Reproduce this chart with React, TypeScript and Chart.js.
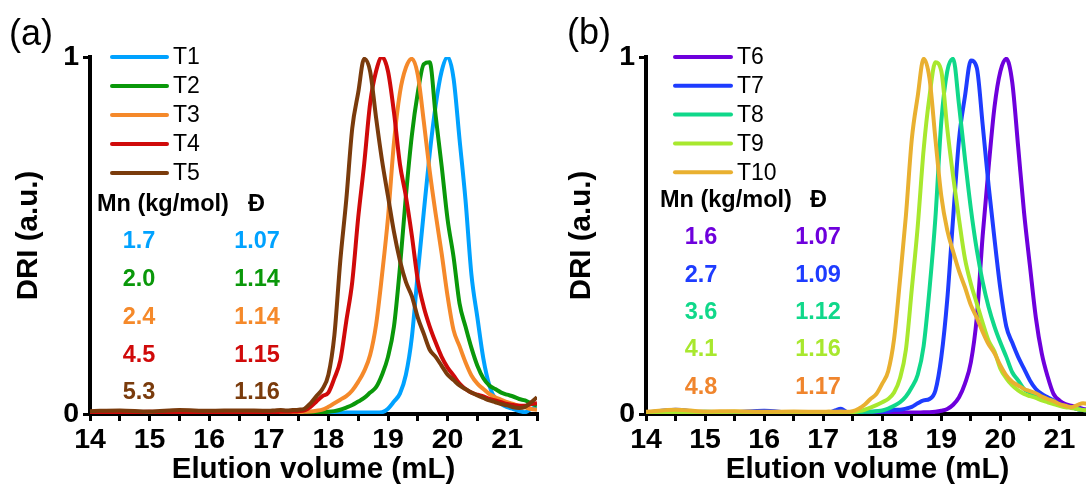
import React, { useEffect, useRef } from "react";
import { Chart, registerables } from "chart.js";

Chart.register(...registerables);

const FONT = "'Liberation Sans', Arial, Helvetica, sans-serif";

// Elution volume grid (mL)
const X = [
  14, 14.5, 15, 15.5, 16, 16.5,
  17, 17.1, 17.2, 17.3, 17.4, 17.5, 17.6, 17.7, 17.8, 17.9,
  18, 18.1, 18.2, 18.3, 18.4, 18.5, 18.6, 18.7, 18.8, 18.9,
  19, 19.1, 19.2, 19.3, 19.4, 19.5, 19.6, 19.7, 19.8, 19.9,
  20, 20.1, 20.2, 20.3, 20.4, 20.5, 20.6, 20.7, 20.8, 20.9,
  21, 21.1, 21.2, 21.3, 21.4, 21.5,
];

// Panel (a)
const T1 = [
  0.003, 0.004, 0.003, 0.006, 0.003, 0.004,
  0.004, 0.003, 0.004, 0.003, 0.004, 0.003, 0.004, 0.003, 0.003, 0.004,
  0.003, 0.003, 0.003, 0.004, 0.004, 0.004, 0.004, 0.004, 0.004, 0.005,
  0.015, 0.035, 0.057, 0.11, 0.215, 0.395, 0.565, 0.73, 0.865, 0.96,
  1.0, 0.94, 0.77, 0.6, 0.39, 0.27, 0.155, 0.08, 0.042, 0.028,
  0.019, 0.014, 0.008, 0.005, 0.014, 0.019,
];
const T2 = [
  0.004, 0.005, 0.003, 0.005, 0.004, 0.003,
  0.004, 0.004, 0.005, 0.004, 0.004, 0.005, 0.005, 0.005, 0.005, 0.005,
  0.006, 0.008, 0.012, 0.018, 0.025, 0.035, 0.045, 0.06, 0.075, 0.11,
  0.16, 0.245, 0.41, 0.61, 0.78, 0.9, 0.98, 0.985, 0.835, 0.695,
  0.545, 0.44, 0.31, 0.245, 0.185, 0.135, 0.1, 0.08, 0.07, 0.06,
  0.054, 0.049, 0.042, 0.038, 0.03, 0.024,
];
const T3 = [
  0.004, 0.003, 0.005, 0.004, 0.003, 0.004,
  0.004, 0.004, 0.004, 0.005, 0.005, 0.005, 0.006, 0.007, 0.009, 0.012,
  0.02, 0.03, 0.04, 0.05, 0.066, 0.09, 0.12, 0.165, 0.25, 0.39,
  0.55, 0.76, 0.9, 0.97, 0.995, 0.95, 0.82, 0.68, 0.56, 0.45,
  0.33, 0.235, 0.19, 0.145, 0.108, 0.085, 0.07, 0.056, 0.047, 0.04,
  0.033, 0.028, 0.023, 0.019, 0.014, 0.012,
];
const T4 = [
  0.005, 0.004, 0.006, 0.004, 0.005, 0.004,
  0.005, 0.005, 0.006, 0.006, 0.007, 0.008, 0.01, 0.02, 0.035, 0.05,
  0.06, 0.1, 0.15, 0.26, 0.37, 0.55, 0.7, 0.87, 0.96, 1.0,
  0.96, 0.845, 0.7, 0.61, 0.5, 0.375, 0.3, 0.245, 0.2, 0.16,
  0.13, 0.108, 0.085, 0.07, 0.06, 0.054, 0.049, 0.042, 0.038, 0.033,
  0.028, 0.025, 0.023, 0.023, 0.028, 0.03,
];
const T5 = [
  0.008, 0.01, 0.007, 0.011, 0.009, 0.01,
  0.009, 0.01, 0.011, 0.01, 0.011, 0.012, 0.015, 0.03, 0.05, 0.07,
  0.11, 0.22, 0.43, 0.6, 0.8, 0.9, 0.995, 0.96, 0.83, 0.71,
  0.61, 0.51, 0.43, 0.37, 0.33, 0.27, 0.225, 0.18, 0.16, 0.135,
  0.11, 0.095, 0.08, 0.07, 0.06, 0.052, 0.045, 0.038, 0.033, 0.028,
  0.024, 0.019, 0.017, 0.02, 0.033, 0.047,
];

// Panel (b)
const T6 = [
  0.003, 0.004, 0.003, 0.004, 0.003, 0.004,
  0.003, 0.004, 0.003, 0.003, 0.004, 0.003, 0.003, 0.004, 0.003, 0.003,
  0.003, 0.003, 0.004, 0.004, 0.004, 0.004, 0.004, 0.005, 0.005, 0.006,
  0.009, 0.014, 0.026, 0.047, 0.085, 0.145, 0.27, 0.5, 0.69, 0.86,
  0.96, 0.995, 0.93, 0.75, 0.565, 0.415, 0.27, 0.17, 0.105, 0.056,
  0.038, 0.028, 0.023, 0.019, 0.014, 0.012,
];
const T7 = [
  0.004, 0.012, 0.004, 0.005, 0.009, 0.004,
  0.005, 0.004, 0.01, 0.015, 0.006, 0.005, 0.005, 0.006, 0.006, 0.007,
  0.007, 0.008, 0.012, 0.012, 0.015, 0.02, 0.03, 0.038, 0.042, 0.066,
  0.16, 0.32, 0.55, 0.77, 0.89, 0.99, 0.97, 0.81, 0.64, 0.49,
  0.35, 0.245, 0.2, 0.16, 0.127, 0.094, 0.07, 0.056, 0.047, 0.038,
  0.028, 0.022, 0.019, 0.014, 0.011, 0.01,
];
const T8 = [
  0.005, 0.004, 0.006, 0.004, 0.005, 0.004,
  0.005, 0.005, 0.004, 0.005, 0.005, 0.005, 0.005, 0.006, 0.006, 0.008,
  0.01, 0.015, 0.023, 0.033, 0.049, 0.075, 0.11, 0.19, 0.35, 0.55,
  0.82, 0.96, 0.995, 0.865, 0.715, 0.575, 0.46, 0.37, 0.3, 0.245,
  0.2, 0.16, 0.117, 0.094, 0.07, 0.06, 0.052, 0.045, 0.038, 0.032,
  0.026, 0.022, 0.019, 0.014, 0.011, 0.01,
];
const T9 = [
  0.004, 0.005, 0.004, 0.006, 0.004, 0.005,
  0.004, 0.005, 0.005, 0.004, 0.005, 0.005, 0.008, 0.012, 0.018, 0.025,
  0.033, 0.042, 0.06, 0.1, 0.18, 0.35, 0.525, 0.74, 0.89, 0.985,
  0.96, 0.8, 0.665, 0.545, 0.435, 0.365, 0.31, 0.255, 0.205, 0.175,
  0.127, 0.1, 0.08, 0.066, 0.056, 0.05, 0.045, 0.038, 0.033, 0.028,
  0.023, 0.019, 0.017, 0.014, 0.011, 0.01,
];
const T10 = [
  0.006, 0.012, 0.007, 0.008, 0.006, 0.007,
  0.006, 0.007, 0.006, 0.007, 0.006, 0.008, 0.015, 0.026, 0.042, 0.056,
  0.085, 0.12, 0.21, 0.375, 0.555, 0.77, 0.89, 0.995, 0.94, 0.77,
  0.61, 0.515, 0.455, 0.4, 0.355, 0.305, 0.27, 0.23, 0.195, 0.17,
  0.136, 0.108, 0.09, 0.08, 0.07, 0.064, 0.058, 0.049, 0.042, 0.036,
  0.028, 0.023, 0.019, 0.025, 0.03, 0.028,
];

const LABELS_A = ["T1", "T2", "T3", "T4", "T5"];
const SERIES_A = [T1, T2, T3, T4, T5];
const LINE_COLORS_A = ["#00A2FF", "#0A980A", "#F5892A", "#D00A0A", "#7A3B0C"];
const TEXT_COLORS_A = ["#00A2FF", "#0A980A", "#F5892A", "#D00A0A", "#7A3B0C"];
const MN_A = ["1.7", "2.0", "2.4", "4.5", "5.3"];
const PDI_A = ["1.07", "1.14", "1.14", "1.15", "1.16"];

const LABELS_B = ["T6", "T7", "T8", "T9", "T10"];
const SERIES_B = [T6, T7, T8, T9, T10];
const LINE_COLORS_B = ["#6E00DC", "#1E3CFF", "#10D88A", "#A8E82E", "#E9B030"];
const TEXT_COLORS_B = ["#6E00DC", "#1E3CFF", "#10D88A", "#A8E82E", "#F0852D"];
const MN_B = ["1.6", "2.7", "3.6", "4.1", "4.8"];
const PDI_B = ["1.07", "1.09", "1.12", "1.16", "1.17"];

const X_TICK_STEP = 0.5;
const Y_TICKS = [0, 1];

const annotPlugin = {
  id: "annot",
  afterDraw(chart: any, _args: any, o: any) {
    const { ctx, chartArea: a } = chart;
    ctx.save();
    ctx.textBaseline = "middle";
    ctx.textAlign = "left";
    ctx.fillStyle = "#000";
    ctx.font = `36px ${FONT}`;
    ctx.fillText(o.letter, o.letterX, o.letterY);

    o.labels.forEach((lab: string, i: number) => {
      const y = a.top + i * o.legGap;
      ctx.strokeStyle = o.lineColors[i];
      ctx.lineWidth = 4;
      ctx.lineCap = "round";
      ctx.beginPath();
      ctx.moveTo(a.left + o.legX0, y);
      ctx.lineTo(a.left + o.legX1, y);
      ctx.stroke();
      ctx.fillStyle = "#000";
      ctx.font = `23px ${FONT}`;
      ctx.fillText(lab, a.left + o.legX1 + 6, y + 1);
    });

    ctx.fillStyle = "#000";
    ctx.font = `bold 23.5px ${FONT}`;
    ctx.textAlign = "left";
    ctx.fillText("Mn (kg/mol)", a.left + o.mnX, o.headY);
    ctx.fillText("Đ", a.left + o.dX, o.headY);

    ctx.textAlign = "center";
    ctx.font = `bold 23.5px ${FONT}`;
    o.mn.forEach((m: string, i: number) => {
      const y = o.rowY0 + i * o.rowGap;
      ctx.fillStyle = o.textColors[i];
      ctx.fillText(m, a.left + o.col1, y);
      ctx.fillText(o.pdi[i], a.left + o.col2, y);
    });
    ctx.restore();
  },
};

function makeConfig(series: number[][], colors: string[], labels: string[], annot: any, yTitlePad: number) {
  const n = series.length;
  return {
    type: "line" as const,
    data: {
      datasets: series.map((s, i) => ({
        label: labels[i],
        data: X.map((x, j) => ({ x, y: s[j] })),
        borderColor: colors[i],
        backgroundColor: colors[i],
        borderWidth: 4,
        pointRadius: 0,
        cubicInterpolationMode: "monotone" as const,
        fill: false,
        order: n - i,
      })),
    },
    plugins: [annotPlugin],
    options: {
      animation: false as const,
      responsive: false,
      maintainAspectRatio: false,
      layout: { padding: { left: 0, right: 11, top: 57, bottom: 0 } },
      plugins: {
        legend: { display: false },
        tooltip: { enabled: false },
        annot,
      },
      scales: {
        x: {
          type: "linear" as const,
          position: "bottom" as const,
          min: 14,
          max: 21.5,
          afterFit: (s: any) => { s.height = 76; },
          ticks: {
            stepSize: X_TICK_STEP,
            autoSkip: false,
            maxRotation: 0,
            minRotation: 0,
            padding: 3,
            color: "#000",
            font: { family: FONT, size: 28.5, weight: "bold" as const, lineHeight: 1.1 },
            callback: (v: any) => (Number.isInteger(v) ? String(v) : ""),
          },
          grid: { drawOnChartArea: false, drawTicks: true, tickLength: 7, color: "#000", lineWidth: 3 },
          border: { display: true, color: "#000", width: 4 },
          title: {
            display: true,
            text: "Elution volume (mL)",
            color: "#000",
            font: { family: FONT, size: 29.5, weight: "bold" as const, lineHeight: 1.1 },
            padding: { top: 0, bottom: 4 },
          },
        },
        y: {
          type: "linear" as const,
          min: Y_TICKS[0],
          max: Y_TICKS[1],
          afterFit: (s: any) => { s.width = 90; },
          ticks: {
            stepSize: 1,
            padding: 4,
            color: "#000",
            font: { family: FONT, size: 28.5, weight: "bold" as const },
          },
          grid: { drawOnChartArea: false, drawTicks: true, tickLength: 7, color: "#000", lineWidth: 3 },
          border: { display: true, color: "#000", width: 4 },
          title: {
            display: true,
            text: "DRI (a.u.)",
            color: "#000",
            font: { family: FONT, size: 29.5, weight: "bold" as const },
            padding: { top: yTitlePad, bottom: 0 },
          },
        },
      },
    },
  };
}

export default function App() {
  const refA = useRef<HTMLCanvasElement>(null);
  const refB = useRef<HTMLCanvasElement>(null);

  useEffect(() => {
    const annotA = {
      letter: "(a)", letterX: 9, letterY: 35,
      labels: LABELS_A, lineColors: LINE_COLORS_A, textColors: TEXT_COLORS_A,
      legX0: 22, legX1: 77, legGap: 29,
      mnX: 7, dX: 158, headY: 205,
      mn: MN_A, pdi: PDI_A, col1: 49, col2: 167, rowY0: 242, rowGap: 37.7,
    };
    const annotB = {
      letter: "(b)", letterX: 11, letterY: 34,
      labels: LABELS_B, lineColors: LINE_COLORS_B, textColors: TEXT_COLORS_B,
      legX0: 29, legX1: 85, legGap: 28.8,
      mnX: 14, dX: 164, headY: 201,
      mn: MN_B, pdi: PDI_B, col1: 55, col2: 172, rowY0: 238, rowGap: 37.3,
    };
    const ca = new Chart(refA.current as HTMLCanvasElement, makeConfig(SERIES_A, LINE_COLORS_A, LABELS_A, annotA, 11) as any);
    const cb = new Chart(refB.current as HTMLCanvasElement, makeConfig(SERIES_B, LINE_COLORS_B, LABELS_B, annotB, 8) as any);
    return () => {
      ca.destroy();
      cb.destroy();
    };
  }, []);

  return (
    <div style={{ position: "fixed", left: 0, top: 0, width: 1086, height: 490, overflow: "hidden", background: "#fff" }}>
      <canvas ref={refA} width={548} height={490} style={{ position: "absolute", left: 0, top: 0, width: 548, height: 490 }} />
      <canvas ref={refB} width={544} height={490} style={{ position: "absolute", left: 556, top: 0, width: 544, height: 490 }} />
    </div>
  );
}
